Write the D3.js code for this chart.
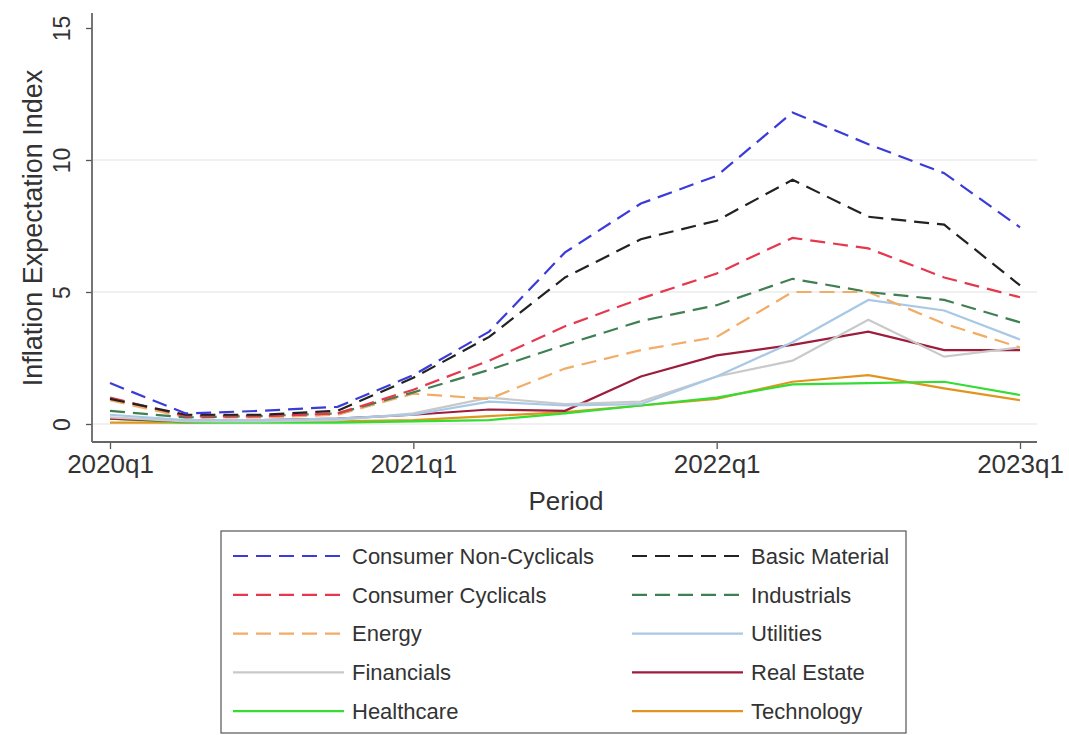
<!DOCTYPE html>
<html>
<head>
<meta charset="utf-8">
<script src="https://cdn.jsdelivr.net/npm/d3@7"></script>
<style>
  body { margin: 0; background: #fff; }
  svg { font-family: "Liberation Sans", Arial, sans-serif; }
</style>
</head>
<body>
<svg id="chart" width="1069" height="735"></svg>
<script>
const quarters = ["2020q1", "2020q2", "2020q3", "2020q4", "2021q1", "2021q2", "2021q3",
  "2021q4", "2022q1", "2022q2", "2022q3", "2022q4", "2023q1"];
const xTicks = ["2020q1", "2021q1", "2022q1", "2023q1"];
const yTicks = [0, 5, 10, 15];

const consumerNonCyclicals = [1.55, 0.4, 0.5, 0.65, 1.85, 3.5, 6.5, 8.35, 9.4, 11.8, 10.6, 9.5, 7.45];
const basicMaterial = [0.95, 0.35, 0.35, 0.5, 1.75, 3.3, 5.55, 7.0, 7.7, 9.25, 7.85, 7.55, 5.25];
const consumerCyclicals = [1.0, 0.3, 0.3, 0.4, 1.3, 2.4, 3.7, 4.75, 5.7, 7.05, 6.65, 5.55, 4.8];
const industrials = [0.5, 0.25, 0.3, 0.4, 1.2, 2.05, 3.0, 3.9, 4.5, 5.5, 5.0, 4.7, 3.85];
const energy = [0.9, 0.25, 0.25, 0.35, 1.15, 0.95, 2.1, 2.8, 3.3, 5.0, 5.0, 3.8, 2.9];
const utilities = [0.35, 0.15, 0.15, 0.2, 0.35, 0.85, 0.7, 0.75, 1.8, 3.1, 4.7, 4.3, 3.2];
const financials = [0.25, 0.1, 0.1, 0.15, 0.4, 1.0, 0.75, 0.85, 1.8, 2.4, 3.95, 2.55, 2.9];
const realEstate = [0.2, 0.1, 0.15, 0.2, 0.35, 0.55, 0.5, 1.8, 2.6, 3.0, 3.5, 2.8, 2.8];
const healthcare = [0.2, 0.05, 0.05, 0.05, 0.1, 0.15, 0.4, 0.7, 1.0, 1.5, 1.55, 1.6, 1.1];
const technology = [0.05, 0.05, 0.1, 0.1, 0.15, 0.3, 0.45, 0.7, 0.95, 1.6, 1.85, 1.35, 0.9];

// legend order: left column then right column, row by row
const series = [
  { name: "Consumer Non-Cyclicals", values: consumerNonCyclicals, color: "#3b3bd9", dash: true },
  { name: "Basic Material", values: basicMaterial, color: "#222222", dash: true },
  { name: "Consumer Cyclicals", values: consumerCyclicals, color: "#e5384f", dash: true },
  { name: "Industrials", values: industrials, color: "#3f7f52", dash: true },
  { name: "Energy", values: energy, color: "#f2ac66", dash: true },
  { name: "Utilities", values: utilities, color: "#a9c8e6", dash: false },
  { name: "Financials", values: financials, color: "#c9c9c9", dash: false },
  { name: "Real Estate", values: realEstate, color: "#9c1d3c", dash: false },
  { name: "Healthcare", values: healthcare, color: "#33dd33", dash: false },
  { name: "Technology", values: technology, color: "#e2951e", dash: false }
];

const svg = d3.select("#chart");

const axisX = 92, axisBottomY = 442, plotRight = 1037, plotTop = 13;

let xScale = d3.scalePoint().domain(quarters).range([110, 1020]);
let yScale = d3.scaleLinear().domain([0, 15]).range([424, 28]);

// gridlines
svg.append("g")
  .selectAll("line")
  .data(yTicks.filter((d) => d < 15))
  .join("line")
  .attr("x1", axisX)
  .attr("x2", plotRight)
  .attr("y1", (d) => yScale(d))
  .attr("y2", (d) => yScale(d))
  .attr("stroke", "#ebebeb")
  .attr("stroke-width", 1.5);

// y axis
let yAxis = svg.append("g")
  .attr("transform", `translate(${axisX}, 0)`)
  .call(d3.axisLeft(yScale).tickValues(yTicks).tickSize(6).tickPadding(0));
yAxis.select(".domain").remove();
yAxis.selectAll(".tick line").attr("stroke", "#555").attr("stroke-width", 1.3);
yAxis.selectAll(".tick text")
  .attr("x", 0)
  .attr("dy", 0)
  .attr("transform", "translate(-22, 0) rotate(-90)")
  .attr("text-anchor", "middle")
  .attr("fill", "#333")
  .style("font-size", "23px");

// x axis
let xAxis = svg.append("g")
  .attr("transform", `translate(0, ${axisBottomY})`)
  .call(d3.axisBottom(xScale).tickValues(xTicks).tickSize(7).tickPadding(6));
xAxis.select(".domain").remove();
xAxis.selectAll(".tick line").attr("stroke", "#555").attr("stroke-width", 1.3);
xAxis.selectAll(".tick text")
  .attr("fill", "#333")
  .style("font-size", "26px");

// axis lines
svg.append("line")
  .attr("x1", axisX).attr("x2", axisX)
  .attr("y1", plotTop).attr("y2", axisBottomY)
  .attr("stroke", "#666").attr("stroke-width", 1.8);
svg.append("line")
  .attr("x1", axisX).attr("x2", plotRight)
  .attr("y1", axisBottomY).attr("y2", axisBottomY)
  .attr("stroke", "#666").attr("stroke-width", 1.8);

// axis titles
svg.append("text")
  .attr("transform", `translate(42, ${(28 + 424) / 2 + 2}) rotate(-90)`)
  .attr("text-anchor", "middle")
  .attr("fill", "#333")
  .style("font-size", "27px")
  .text("Inflation Expectation Index");

svg.append("text")
  .attr("x", 566)
  .attr("y", 510)
  .attr("text-anchor", "middle")
  .attr("fill", "#333")
  .style("font-size", "26px")
  .text("Period");

// lines
let valueLine = d3.line()
  .x((d, i) => xScale(quarters[i]))
  .y((d) => yScale(d));

svg.append("g")
  .selectAll("path")
  .data(series.slice().reverse())
  .join("path")
  .attr("d", (d) => valueLine(d.values))
  .attr("fill", "none")
  .attr("stroke", (d) => d.color)
  .attr("stroke-width", 2.2)
  .attr("stroke-dasharray", (d) => (d.dash ? "15,8" : null));

// legend
let legend = svg.append("g");
legend.append("rect")
  .attr("x", 221)
  .attr("y", 531)
  .attr("width", 685)
  .attr("height", 202)
  .attr("fill", "#fff")
  .attr("stroke", "#555")
  .attr("stroke-width", 1.2);

let items = legend.selectAll("g.item")
  .data(series)
  .join("g")
  .attr("class", "item")
  .attr("transform", (d, i) => `translate(${i % 2 === 0 ? 233 : 632}, ${556 + Math.floor(i / 2) * 38.8})`);

items.append("line")
  .attr("x1", 0)
  .attr("x2", 111)
  .attr("stroke", (d) => d.color)
  .attr("stroke-width", 2.2)
  .attr("stroke-dasharray", (d) => (d.dash ? "15,8" : null));

items.append("text")
  .attr("x", 119)
  .attr("dy", "0.35em")
  .attr("fill", "#333")
  .style("font-size", "22px")
  .text((d) => d.name);
</script>
</body>
</html>
